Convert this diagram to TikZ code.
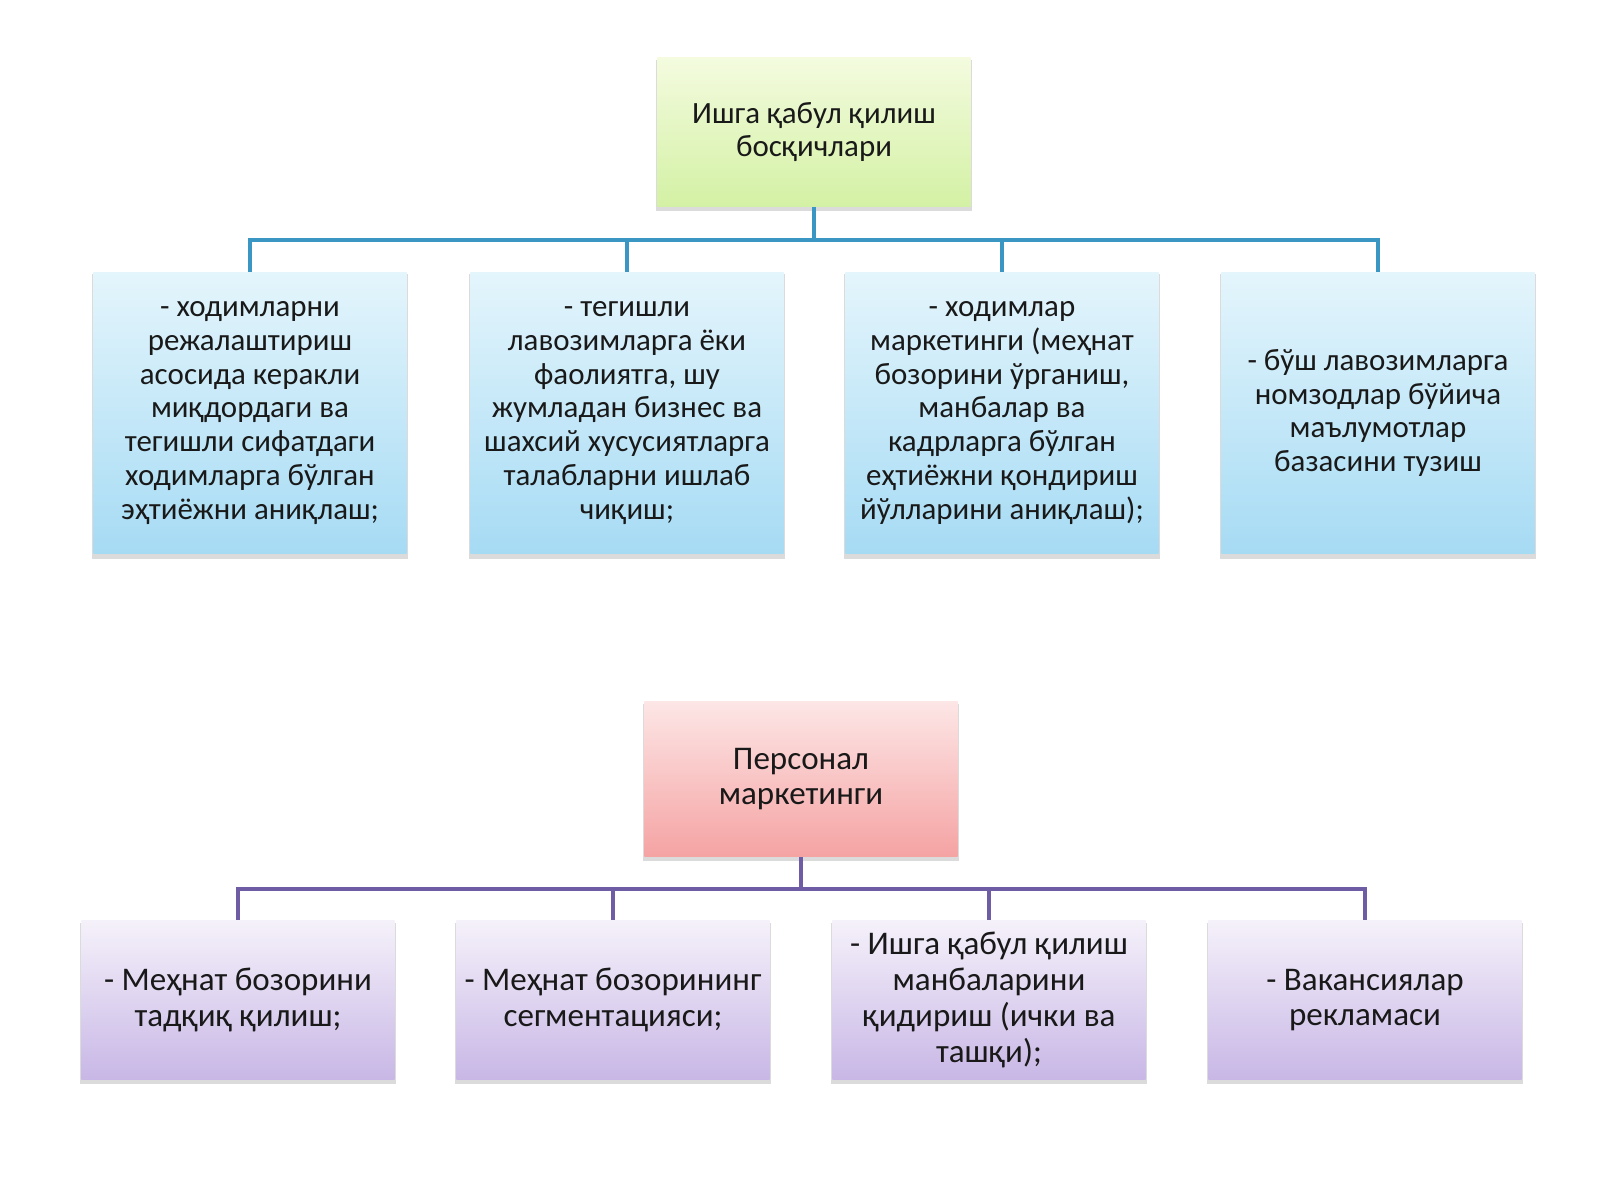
\documentclass[tikz,border=0pt]{standalone}
\usepackage{fontspec}
\setmainfont{Carlito}
\usetikzlibrary{shadows}
\definecolor{greentop}{HTML}{F4FBDF}
\definecolor{greenbot}{HTML}{D3F1A4}
\definecolor{bluetop}{HTML}{E4F5FC}
\definecolor{bluebot}{HTML}{A6DBF4}
\definecolor{pinktop}{HTML}{FDE6E6}
\definecolor{pinkbot}{HTML}{F5A3A3}
\definecolor{violettop}{HTML}{F5F1FA}
\definecolor{violetbot}{HTML}{C8B7E6}
\definecolor{blueline}{HTML}{3A97C4}
\definecolor{violetline}{HTML}{6E5CA4}

\begin{document}
\begin{tikzpicture}[x=0.025cm,y=-0.025cm,
  box/.style={align=center,text=black!90,inner sep=2pt,minimum width=7.825cm,
    drop shadow={shadow xshift=0pt,shadow yshift=-2.5pt,shadow scale=1.012,opacity=0.28}},
  headbox/.style={box,top color=greentop,bottom color=greenbot,minimum height=3.725cm,font=\fontsize{22}{24}\selectfont},
  stepbox/.style={box,top color=bluetop,bottom color=bluebot,minimum height=7.025cm,font=\fontsize{22}{24}\selectfont},
  markbox/.style={box,top color=pinktop,bottom color=pinkbot,minimum height=3.875cm,font=\fontsize{23.5}{25.5}\selectfont},
  taskbox/.style={box,top color=violettop,bottom color=violetbot,minimum height=3.975cm,font=\fontsize{23.5}{25.5}\selectfont},
  bline/.style={draw=blueline,line width=2.4pt},
  vline/.style={draw=violetline,line width=2.4pt}]
\fill[white] (0,0) rectangle (1600,1200);
\useasboundingbox (0,0) rectangle (1600,1200);
\node[headbox] (head) at (814,132) {Ишга қабул қилиш\\босқичлари};
\node[stepbox] (s1) at (250,413) {- ходимларни\\режалаштириш\\асосида керакли\\миқдордаги ва\\тегишли сифатдаги\\ходимларга бўлган\\эҳтиёжни аниқлаш;};
\node[stepbox] (s2) at (627,413) {- тегишли\\лавозимларга ёки\\фаолиятга, шу\\жумладан бизнес ва\\шахсий хусусиятларга\\талабларни ишлаб\\чиқиш;};
\node[stepbox] (s3) at (1002,413) {- ходимлар\\маркетинги (меҳнат\\бозорини ўрганиш,\\манбалар ва\\кадрларга бўлган\\еҳтиёжни қондириш\\йўлларини аниқлаш);};
\node[stepbox] (s4) at (1378,413) {- бўш лавозимларга\\номзодлар бўйича\\маълумотлар\\базасини тузиш};
\coordinate (hb) at (814,240);
\draw[bline] (head.south) -- (hb);
\foreach \i in {1,...,4}
  \draw[bline] (hb) -| (s\i.north);
\node[markbox] (mark) at (801,779) {Персонал\\маркетинги};
\node[taskbox] (t1) at (238,1000) {- Меҳнат бозорини\\тадқиқ қилиш;};
\node[taskbox] (t2) at (613,1000) {- Меҳнат бозорининг\\сегментацияси;};
\node[taskbox] (t3) at (989,1000) {- Ишга қабул қилиш\\манбаларини\\қидириш (ички ва\\ташқи);};
\node[taskbox] (t4) at (1365,1000) {- Вакансиялар\\рекламаси};
\coordinate (mb) at (801,889);
\draw[vline] (mark.south) -- (mb);
\foreach \i in {1,...,4}
  \draw[vline] (mb) -| (t\i.north);
\end{tikzpicture}
\end{document}
